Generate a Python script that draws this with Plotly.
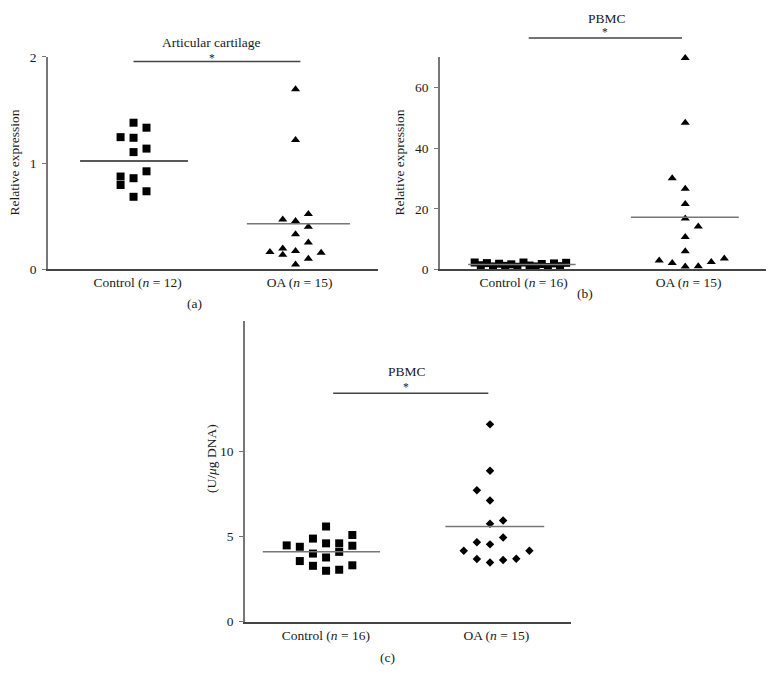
import plotly.graph_objects as go

W, H = 775, 691

# ---------------- data ----------------
categories_a = ["Control (<i>n</i> = 12)", "OA (<i>n</i> = 15)"]
categories_b = ["Control (<i>n</i> = 16)", "OA (<i>n</i> = 15)"]
categories_c = ["Control (<i>n</i> = 16)", "OA (<i>n</i> = 15)"]

a_control = [1.38, 1.333, 1.244, 1.238, 1.103, 1.136, 0.922, 0.873, 0.857, 0.793, 0.734, 0.682]
a_control_col = [0, 1, -1, 0, 0, 1, 1, -1, 0, -1, 1, 0]
a_oa = [1.696, 1.217, 0.467, 0.455, 0.519, 0.399, 0.329, 0.252, 0.163, 0.196, 0.135, 0.172, 0.154, 0.099, 0.043]
a_oa_col = [0, 0, -1, 0, 1, 1, 0, 1, -2, -1, -1, 0, 2, 1, 0]
a_means = [1.02, 0.427]

b_control = [2.3, 1.4, 2.1, 1.0, 1.9, 1.2, 1.7, 0.9, 2.3, 1.3, 1.0, 1.8, 0.8, 2.0, 1.1, 2.2]
b_control_col = [-7.5, -6.5, -5.5, -4.5, -3.5, -2.5, -1.5, -0.5, 0.5, 1.5, 2.5, 3.5, 4.5, 5.5, 6.5, 7.5]
b_oa = [69.7, 48.4, 30.1, 26.6, 21.6, 16.8, 14.2, 10.7, 6.0, 3.0, 2.1, 1.0, 1.1, 2.5, 3.6]
b_oa_col = [0, 0, -1, 0, 0, 0, 1, 0, 0, -2, -1, 0, 1, 2, 3]
b_means = [1.6, 17.2]

c_control = [4.48, 4.40, 3.56, 4.88, 4.00, 3.28, 5.59, 4.60, 3.77, 2.99, 4.60, 4.10, 3.05, 5.09, 4.46, 3.31]
c_control_col = [-2.5, -1.5, -1.5, -0.5, -0.5, -0.5, 0.5, 0.5, 0.5, 0.5, 1.5, 1.5, 1.5, 2.5, 2.5, 2.5]
c_oa = [11.59, 8.87, 7.72, 7.12, 5.75, 5.94, 4.94, 4.66, 4.54, 4.16, 4.16, 3.68, 3.47, 3.62, 3.70]
c_oa_col = [0, 0, -1, 0, 0, 1, 1, -1, 0, -2, 3, -1, 0, 1, 2]
c_means = [4.10, 5.59]

yticks_a = [0, 1, 2]
yticks_b = [0, 20, 40, 60]
yticks_c = [0, 5, 10]

# ---------------- helpers ----------------
def px_x(p):
    return p / W

def px_y(p):
    return 1 - p / H

FONT = "Liberation Serif"
fig = go.Figure()

def add_points(xa, ya, center, vals, cols, spacing, symbol, size):
    fig.add_trace(go.Scatter(
        x=[center + c * spacing for c in cols], y=vals, mode="markers",
        marker=dict(symbol=symbol, size=size, color="black", line=dict(width=0)),
        xaxis=xa, yaxis=ya, showlegend=False, hoverinfo="skip", cliponaxis=False))

def add_mean(xa, ya, x0, x1, v, color):
    fig.add_trace(go.Scatter(
        x=[x0, x1], y=[v, v], mode="lines", line=dict(color=color, width=1.5),
        xaxis=xa, yaxis=ya, showlegend=False, hoverinfo="skip"))

# panel a
add_points("x", "y", 1, a_control, a_control_col, 0.08, "square", 8)
add_points("x", "y", 2, a_oa, a_oa_col, 0.079, "triangle-up", 8)
add_mean("x", "y", 0.67, 1.336, a_means[0], "#222222")
add_mean("x", "y", 1.70, 2.336, a_means[1], "#777777")

# panel b
add_points("x2", "y2", 1, b_control, b_control_col, 0.037, "square", 8)
add_points("x2", "y2", 2, b_oa, b_oa_col, 0.079, "triangle-up", 8)
add_mean("x2", "y2", 0.683, 1.335, b_means[0], "#777777")
add_mean("x2", "y2", 1.67, 2.325, b_means[1], "#777777")

# panel c
add_points("x3", "y3", 1, c_control, c_control_col, 0.077, "square", 8)
add_points("x3", "y3", 2, c_oa, c_oa_col, 0.077, "diamond", 6.5)
add_mean("x3", "y3", 0.667, 1.355, c_means[0], "#777777")
add_mean("x3", "y3", 1.738, 2.318, c_means[1], "#777777")

def xaxis(dom, rng, cats, shift):
    return dict(domain=dom, range=rng, tickvals=[1 + shift, 2 + shift], ticktext=cats,
                showline=True, linecolor="#444444", linewidth=1.5, ticks="",
                showgrid=False, zeroline=False, tickfont=dict(family=FONT, size=13.5, color="#1a1a1a"),
                fixedrange=True)

def yaxis(dom, rng, ticks, anchor):
    return dict(domain=dom, range=rng, tickvals=ticks, showline=True, linecolor="#777777",
                linewidth=1.5, ticks="outside", ticklen=4, tickwidth=1.2, tickcolor="#777777",
                showgrid=False, zeroline=False, anchor=anchor, ticklabelstandoff=3,
                tickfont=dict(family=FONT, size=13.5, color="#1a1a1a"), fixedrange=True)

fig.update_layout(
    width=W, height=H, margin=dict(l=0, r=0, t=0, b=0),
    paper_bgcolor="white", plot_bgcolor="white",
    xaxis=dict(xaxis([px_x(48), px_x(378)], [0.472, 2.509], categories_a, 0.025), anchor="y"),
    yaxis=yaxis([px_y(268), px_y(51)], [0, 2], yticks_a, "x"),
    xaxis2=dict(xaxis([px_x(440), px_x(766)], [0.512, 2.49], categories_b, 0.02), anchor="y2"),
    yaxis2=yaxis([px_y(268.3), px_y(50.7)], [0, 70.2], yticks_b, "x2"),
    xaxis3=dict(xaxis([px_x(245), px_x(571)], [0.563, 2.475], categories_c, 0.037), anchor="y3"),
    yaxis3=yaxis([px_y(628.3), px_y(321)], [0, 17.66], yticks_c, "x3"),
)

shapes = []
for xref, x0, x1, ypx in [("x", 1.0, 2.03, 55.7), ("x2", 1.05, 1.98, 31.7), ("x3", 1.08, 1.99, 394.7)]:
    shapes.append(dict(type="line", xref=xref, yref="paper", x0=x0, x1=x1,
                       y0=px_y(ypx), y1=px_y(ypx), line=dict(color="#444444", width=1.5)))
fig.update_layout(shapes=shapes)

ann = []
def text(t, x, y, size=13.5, angle=0):
    ann.append(dict(text=t, x=px_x(x), y=px_y(y), xref="paper", yref="paper",
                    showarrow=False, textangle=angle, xanchor="center", yanchor="middle",
                    font=dict(family=FONT, size=size, color="#1a1a1a")))

text("Articular cartilage", 211.7, 36)
text("*", 211.7, 52, size=11.5)
text("PBMC", 606.7, 12)
text("*", 605, 26, size=11.5)
text("PBMC", 407.3, 373)
text("*", 406, 388, size=11.5)
text("Relative expression", 15, 159, angle=-90)
text("Relative expression", 400, 159, angle=-90)
text("(U/<i>μ</i>g DNA)", 212, 462, angle=-90)
text("(a)", 195, 303)
text("(b)", 585, 293)
text("(c)", 387, 665)
fig.update_layout(annotations=ann)

fig.write_html("out.html", config={"displayModeBar": False},
               post_script="document.body.style.margin='0';")
